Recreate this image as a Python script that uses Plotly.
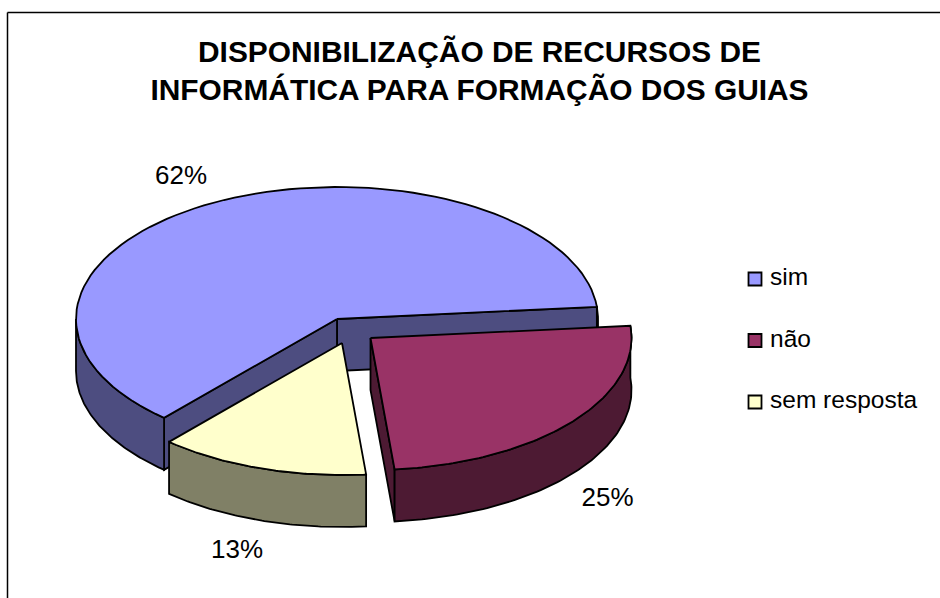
import numpy as np
import plotly.graph_objects as go

# Data
categories = ["sim", "não", "sem resposta"]
values = [62, 25, 13]
title_lines = ["DISPONIBILIZAÇÃO DE RECURSOS DE", "INFORMÁTICA PARA FORMAÇÃO DOS GUIAS"]

# Style / layout
top_colors = ["#9999ff", "#993366", "#ffffcc"]
side_colors = ["#4d4d80", "#4d1a33", "#808066"]
START = 221.5      # clock angle where the first slice begins
RX, RY, DEPTH = 261.0, 132.0, 52.0
centers = [(337.0, 319.0), (370.5, 338.0), (342.0, 343.0)]
label_nudge = [(-6, 8), (-18, 2), (-2, -3)]
LW = 1.8

fig = go.Figure()


def pt(c, a):
    r = np.radians(a)
    return c[0] + RX * np.sin(r), c[1] - RY * np.cos(r)


def poly(xs, ys, color):
    fig.add_trace(go.Scatter(x=list(xs), y=list(ys), mode="lines", fill="toself",
                             fillcolor=color, line=dict(color="black", width=LW),
                             hoverinfo="skip", showlegend=False))


def arc(c, a0, a1):
    a = np.linspace(a0, a1, 90)
    return pt(c, a)


def wall(c, a0, a1, color):
    if a1 <= a0:
        return
    x, y = arc(c, a0, a1)
    poly(np.r_[x, x[::-1], x[0]], np.r_[y, y[::-1] + DEPTH, y[0]], color)


def face(c, a, color):
    x, y = pt(c, a)
    poly([c[0], x, x, c[0], c[0]], [c[1], y, y + DEPTH, c[1] + DEPTH, c[1]], color)


def top(c, a0, a1, color):
    x, y = arc(c, a0, a1)
    poly(np.r_[c[0], x, c[0]], np.r_[c[1], y, c[1]], color)


total = sum(values)
edges = [START]
for v in values:
    edges.append(edges[-1] + 360.0 * v / total)

# sim: clock angles run START .. START+sweep (wraps past 360)
a0, a1 = edges[0], edges[1]
c, ct, cs = centers[0], top_colors[0], side_colors[0]
face(c, a1, cs)
face(c, a0, cs)
wall(c, a0, 270, cs)
wall(c, a1 - 360, 90, cs)
top(c, a0, a1, ct)

# sem resposta
a0s, a1s = edges[2] - 360, edges[3] - 360
c, ct, cs = centers[2], top_colors[2], side_colors[2]
wall(c, a0s, a1s, cs)
top(c, a0s, a1s, ct)

# não
a0n, a1n = edges[1] - 360, edges[2] - 360
c, ct, cs = centers[1], top_colors[1], side_colors[1]
face(c, a1n, cs)
wall(c, a0n, a1n, cs)
top(c, a0n, a1n, ct)

# percentage labels
for i, v in enumerate(values):
    mid = np.radians((edges[i] + edges[i + 1]) / 2)
    cx, cy = centers[i]
    lx = cx + RX * 1.27 * np.sin(mid) + label_nudge[i][0]
    ly = cy - RY * 1.27 * np.cos(mid) + (DEPTH if np.cos(mid) < 0 else 0) + label_nudge[i][1]
    fig.add_trace(go.Scatter(x=[lx], y=[ly], mode="text", text=[f"{v}%"],
                             textposition="middle center",
                             textfont=dict(family="Liberation Sans", size=26, color="black"),
                             hoverinfo="skip", showlegend=False))

# legend entries
LEG_X, LEG_Y0, LEG_DY = 755, 279, 61.5
LEG_TEXT_DX = 15
for i, name in enumerate(categories):
    y = LEG_Y0 + i * LEG_DY
    fig.add_trace(go.Scatter(x=[LEG_X], y=[y], mode="markers", name=name,
                             marker=dict(symbol="square", size=13, color=top_colors[i],
                                         line=dict(color="black", width=1.8)),
                             hoverinfo="name", showlegend=False))
    fig.add_trace(go.Scatter(x=[LEG_X + LEG_TEXT_DX], y=[y], mode="text", text=[name],
                             textposition="middle right",
                             textfont=dict(family="Liberation Sans", size=24.5, color="black"),
                             hoverinfo="skip", showlegend=False))

fig.update_layout(
    width=940, height=598, autosize=False,
    margin=dict(l=0, r=0, t=0, b=0),
    paper_bgcolor="white", plot_bgcolor="white",
    showlegend=False,
    title=dict(text="<br>".join(title_lines), x=479.5 / 940, xanchor="center",
               y=1 - 61.5 / 598, yanchor="top", yref="paper",
               font=dict(family="Liberation Sans", size=29.9, color="black", weight="bold")),
    xaxis=dict(range=[0, 940], visible=False, fixedrange=True),
    yaxis=dict(range=[598, 0], visible=False, fixedrange=True),
    shapes=[
        dict(type="line", x0=7.5, x1=7.5, y0=12.5, y1=598, line=dict(color="black", width=1.5)),
        dict(type="line", x0=7.5, x1=940, y0=12.5, y1=12.5, line=dict(color="black", width=1.5)),
    ],
)
fig.write_html("out.html", post_script="document.body.style.margin='0';",
               config=dict(displayModeBar=False))
